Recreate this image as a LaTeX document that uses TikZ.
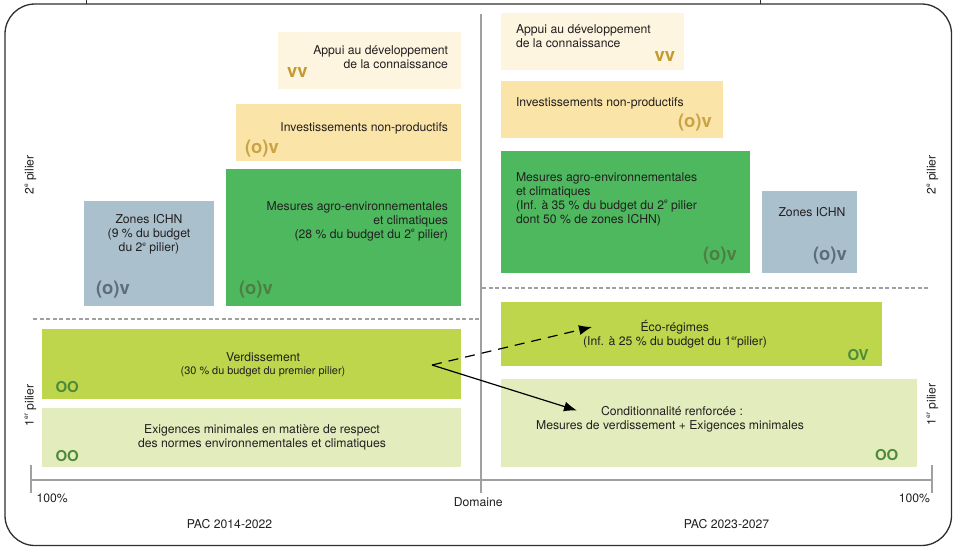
\documentclass[tikz,border=0pt]{standalone}
\usepackage{fontspec}
\setmainfont{TeX Gyre Heros}
\usetikzlibrary{arrows.meta}

\definecolor{frameC}{HTML}{2E2E2E}
\definecolor{axisC}{HTML}{A0A0A0}
\definecolor{inkC}{HTML}{231F20}
\definecolor{creamC}{HTML}{FDF5DF}
\definecolor{sandC}{HTML}{FBE4A7}
\definecolor{greenC}{HTML}{4DB85E}
\definecolor{slateC}{HTML}{AAC0CC}
\definecolor{limeC}{HTML}{BDD64B}
\definecolor{paleC}{HTML}{E3ECBD}
\definecolor{goldC}{HTML}{C49A30}
\definecolor{goldlC}{HTML}{C9A446}
\definecolor{mossC}{HTML}{4E7E44}
\definecolor{steelC}{HTML}{5C6E7A}
\definecolor{leafC}{HTML}{4C8A3A}

% small raised ordinal letters (2e, 1er)
\newcommand{\ord}[1]{\raisebox{0.85ex}{\fontsize{6.5}{6.5}\selectfont #1}}

\begin{document}
\begin{tikzpicture}[x=1pt,y=-1pt,
  font=\fontsize{12.2}{14}\selectfont, text=inkC,
  box/.style={anchor=north west, inner sep=0pt, outer sep=0pt, draw=none},
  txt/.style={inner sep=0pt, outer sep=0pt},
  sym/.style={inner sep=0pt, outer sep=0pt, font=\fontsize{18.5}{18.5}\selectfont\bfseries},
  lvl/.style={inner sep=0pt, outer sep=0pt, font=\fontsize{15}{15}\selectfont\bfseries, text=leafC},
  axisline/.style={draw=axisC, line width=2pt},
  sepline/.style={draw=axisC, line width=2pt, dash pattern=on 4pt off 2.5pt},
  link/.style={draw=black, line width=1.2pt, -{Latex[length=13pt,width=10pt]}},
]
\useasboundingbox (0,0) rectangle (956,547);

% outer frame and the two stubs above it
\draw[frameC, line width=1.3pt, rounded corners=30pt] (5,4) rectangle (951.5,545.5);
\draw[frameC, line width=1pt] (86,0) -- (86,4);
\draw[frameC, line width=1pt] (760,0) -- (760,4);

% axes
\draw[axisline] (480.5,14) -- (480.5,493);
\draw[axisline] (31,479.5) -- (931.5,479.5);
\draw[axisline] (31,465) -- (31,493);
\draw[axisline] (931.5,465) -- (931.5,493);

% separation between the two pillars
\draw[sepline] (33,318.5) -- (480,318.5);
\draw[sepline] (482,287.5) -- (930,287.5);

% ---------- PAC 2014-2022 ----------
\node[box, fill=creamC, minimum width=183pt, minimum height=57pt] (appuiL) at (278,32) {};
\node[box, fill=sandC,  minimum width=225pt, minimum height=57pt] (investL) at (236,104) {};
\node[box, fill=greenC, minimum width=235pt, minimum height=137pt] (maecL) at (226,169) {};
\node[box, fill=slateC, minimum width=130pt, minimum height=105pt] (zonesL) at (84,201) {};
\node[box, fill=limeC,  minimum width=419pt, minimum height=70pt] (verdL) at (42,329) {};
\node[box, fill=paleC,  minimum width=419pt, minimum height=59pt] (exigL) at (42,408) {};

\node[txt, anchor=north east, align=right] (appuiLt) at (448,45.5) {Appui au développement\\de la connaissance};
\node[sym, anchor=base west, text=goldC] (appuiLs) at (287,77) {vv};

\node[txt, anchor=base east] (investLt) at (448,131.5) {Investissements non-productifs};
\node[sym, anchor=base west, text=goldlC] (investLs) at (245,153) {(o)v};

\node[txt, anchor=north east, align=right] (maecLt) at (448,201.5) {Mesures agro-environnementales\\et climatiques\\(28 \% du budget du 2\ord{e} pilier)};
\node[sym, anchor=base west, text=mossC] (maecLs) at (239,294) {(o)v};

\node[txt, anchor=north, align=center] (zonesLt) at (149,214.8) {Zones ICHN\\(9 \% du budget\\du 2\ord{e} pilier)};
\node[sym, anchor=base west, text=steelC] (zonesLs) at (96,294) {(o)v};

\node[txt, anchor=base] (verdLt) at (263,361) {Verdissement};
\node[txt, anchor=base, font=\fontsize{10.9}{12}\selectfont] (verdLsub) at (263,374.5) {(30 \% du budget du premier pilier)};
\node[lvl, anchor=base west] (verdLs) at (55.5,392.3) {OO};

\node[txt, anchor=north, align=center] (exigLt) at (262,424.3) {Exigences minimales en matière de respect\\des normes environnementales et climatiques};
\node[lvl, anchor=base west] (exigLs) at (55.5,461) {OO};

% ---------- PAC 2023-2027 ----------
\node[box, fill=creamC, minimum width=183pt, minimum height=57pt] (appuiR) at (501,13) {};
\node[box, fill=sandC,  minimum width=222pt, minimum height=57pt] (investR) at (501,81) {};
\node[box, fill=greenC, minimum width=249pt, minimum height=122pt] (maecR) at (501,151) {};
\node[box, fill=slateC, minimum width=95pt,  minimum height=82pt] (zonesR) at (762,191) {};
\node[box, fill=limeC,  minimum width=381pt, minimum height=64pt] (ecoR) at (501,302) {};
\node[box, fill=paleC,  minimum width=416pt, minimum height=88pt] (condR) at (501,379) {};

\node[txt, anchor=north west, align=left] (appuiRt) at (516,24.5) {Appui au développement\\de la connaissance};
\node[sym, anchor=base west, text=goldC] (appuiRs) at (654.5,61) {vv};

\node[txt, anchor=base west] (investRt) at (516,106) {Investissements non-productifs};
\node[sym, anchor=base west, text=goldlC] (investRs) at (678,127.7) {(o)v};

\node[txt, anchor=north west, align=left] (maecRt) at (516,172.5) {Mesures agro-environnementales\\et climatiques\\(Inf. à 35 \% du budget du 2\ord{e} pilier\\dont 50 \% de zones ICHN)};
\node[sym, anchor=base west, text=mossC] (maecRs) at (703,260) {(o)v};

\node[txt, anchor=base] (zonesRt) at (812,216.7) {Zones ICHN};
\node[sym, anchor=base west, text=steelC] (zonesRs) at (813,260) {(o)v};

\node[txt, anchor=base] (ecoRt) at (674.7,331) {Éco-régimes};
\node[txt, anchor=base] (ecoRsub) at (675,345.7) {(Inf. à 25 \% du budget du 1\ord{er}pilier)};
\node[lvl, anchor=base west] (ecoRs) at (847.5,360.7) {OV};

\node[txt, anchor=base] (condRt) at (672,415.7) {Conditionnalité renforcée :};
\node[txt, anchor=base] (condRsub) at (670,429.3) {Mesures de verdissement + Exigences minimales};
\node[lvl, anchor=base west] (condRs) at (875,460) {OO};

% ---------- axis labels ----------
\node[txt, anchor=base west] (pctL) at (36.5,502.3) {100\%};
\node[txt, anchor=base east] (pctR) at (930,502) {100\%};
\node[txt, anchor=base] (domaine) at (478.3,506.5) {Domaine};
\node[txt, anchor=base] (pacL) at (229.5,528.3) {PAC 2014-2022};
\node[txt, anchor=base] (pacR) at (726.5,528.3) {PAC 2023-2027};

\node[txt, anchor=base, rotate=90] (p2L) at (33.5,175) {2\ord{e} pilier};
\node[txt, anchor=base, rotate=90] (p1L) at (33.5,405.5) {1\ord{er} pilier};
\node[txt, anchor=base, rotate=90] (p2R) at (935.5,175) {2\ord{e} pilier};
\node[txt, anchor=base, rotate=90] (p1R) at (935.5,404.5) {1\ord{er} pilier};

% ---------- transfer of the greening measures ----------
\coordinate (vsplit) at (432,365);
\coordinate (ecotip) at (592,327);
\coordinate (condtip) at (577,410.5);
\draw[link, dash pattern=on 10pt off 7pt] (vsplit) -- (ecotip);
\draw[link] (vsplit) -- (condtip);
\end{tikzpicture}
\end{document}
